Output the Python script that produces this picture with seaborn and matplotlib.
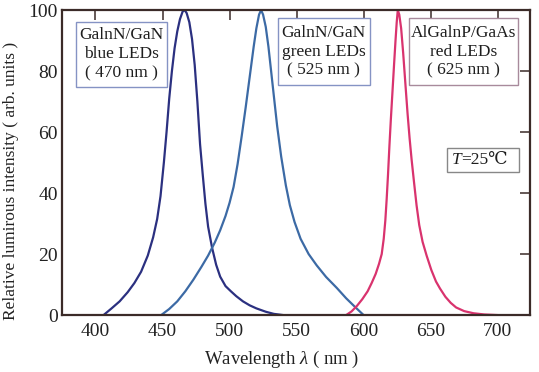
import matplotlib
matplotlib.use("Agg")
import matplotlib.pyplot as plt
from matplotlib.patches import Rectangle
import seaborn as sns
import pandas as pd

# Emission spectra of three LED families (relative luminous intensity vs wavelength)
blue_nm = [406, 412, 418, 424, 429, 434, 439, 443, 446, 448.5, 451, 453, 455, 457, 459, 461,
           463, 465, 466.5, 468, 470, 472, 474, 476, 478, 480, 482, 484, 487, 490, 493, 497,
           501, 505, 510, 515, 520, 527, 533, 540]
blue_int = [0, 2.2, 4.5, 7.5, 10.5, 14.2, 19.5, 25.5, 31.5, 39, 50, 60, 71, 80, 87.5, 93,
            97, 99.5, 100, 99, 96, 90.5, 82, 70, 56, 46, 36.5, 29, 22, 16.5, 12.6, 9.5,
            7.8, 6.2, 4.5, 3.2, 2.2, 1.1, 0.4, 0]

green_nm = [449, 455, 461, 467, 473, 479, 484, 489, 493, 497, 500, 503, 506, 509, 512, 515,
            518, 520, 522, 523.5, 525, 527, 529, 531, 533, 535.5, 538.5, 542, 545, 548.5,
            553, 559, 565, 572, 580, 587, 594, 600]
green_int = [0, 2, 4.5, 7.8, 11.6, 15.8, 19.5, 23.8, 27.8, 32.5, 36.8, 42, 49.5, 58.5, 68, 78,
             88, 94, 98.5, 100, 98.5, 94.5, 88, 80, 72, 62, 52, 42.5, 36, 30.5,
             25, 20, 16.3, 12.5, 8.9, 5.5, 2.5, 0]

red_nm = [587, 591, 595, 599, 603, 606, 609, 611.5, 613.5, 615, 616.2, 617.2, 618.2, 619.2,
          620.3, 621.5, 622.7, 623.8, 624.7, 625.5, 626.6, 628, 629.5, 631.3, 632.8, 634.3,
          635.8, 637.5, 639.5, 641.5, 644, 647, 650.5, 654, 657, 661, 665, 669, 675, 682,
          690, 700]
red_int = [0, 1.2, 3, 5.2, 7.8, 10.5, 13.5, 16.8, 20, 25, 31, 38, 46, 55,
           64, 73, 82, 90, 96, 100, 98.5, 94, 86, 75, 66, 58,
           51, 44, 36, 29.5, 24, 19.5, 14.8, 11, 8.7, 6, 4, 2.5, 1.3, 0.6,
           0.2, 0]

series_names = ["blue", "green", "red"]
series_colors = ["#2b3080", "#3c6aa5", "#d9336e"]

x_ticks = [400, 450, 500, 550, 600, 650, 700]
y_ticks = [0, 20, 40, 60, 80, 100]

box_labels = ["GalnN/GaN\nblue LEDs\n( 470 nm )",
              "GalnN/GaN\ngreen LEDs\n( 525 nm )",
              "AlGalnP/GaAs\nred LEDs\n( 625 nm )"]

frames = []
for name, xs, ys in zip(series_names,
                        [blue_nm, green_nm, red_nm],
                        [blue_int, green_int, red_int]):
    frames.append(pd.DataFrame({"wavelength": xs, "intensity": ys, "led": name}))
df = pd.concat(frames, ignore_index=True)

sns.set_theme(style="white")
serif = ["Liberation Serif", "DejaVu Serif", "Noto Sans CJK SC"]
plt.rcParams["font.family"] = serif
plt.rcParams["mathtext.fontset"] = "custom"
plt.rcParams["mathtext.rm"] = "Liberation Serif"
plt.rcParams["mathtext.it"] = "Liberation Serif:italic"

fig = plt.figure(figsize=(5.39, 3.72), dpi=100)
ax = fig.add_axes([0.115, 0.153, 0.868, 0.820])

sns.lineplot(data=df, x="wavelength", y="intensity", hue="led",
             palette=dict(zip(series_names, series_colors)),
             estimator=None, sort=False, linewidth=1.6, legend=False, ax=ax)

ax.set_xlim(375, 724)
ax.set_ylim(0, 100)
ax.set_xticks(x_ticks)
ax.set_yticks(y_ticks)
spine_color = "#3b2b28"
ax.tick_params(direction="in", length=7, width=1.1, color=spine_color,
               labelsize=14, top=True, right=True, labelcolor="#222222")
ax.tick_params(axis="x", pad=6)
ax.tick_params(axis="y", pad=3)

for s in ax.spines.values():
    s.set_color(spine_color)
    s.set_linewidth(1.6)

ax.set_xlabel(r"Wavelength $\lambda$ ( nm )", fontsize=13.5, color="#222222")
ax.set_ylabel("Relative lumirous intensity ( arb. units )", fontsize=12.5, color="#222222")
ax.xaxis.set_label_coords(0.47, -0.112)
ax.yaxis.set_label_coords(-0.092, 0.44)

# Framed labels attached to each spectrum
box_specs = [
    ((385.1, 74.8), 68.6, 21.3, "#8593c4"),
    ((535.8, 75.4), 68.7, 22.0, "#8593c4"),
    ((633.6, 75.4), 81.3, 22.0, "#a88a9c"),
]
for (xy, w, h, ec), label in zip(box_specs, box_labels):
    ax.add_patch(Rectangle(xy, w, h, facecolor="white", edgecolor=ec,
                           linewidth=1.0, zorder=3))
    ax.text(xy[0] + w / 2, xy[1] + h / 2, label, ha="center", va="center",
            fontsize=12.5, linespacing=1.25, color="#1e1e1e", zorder=4)

# Temperature note
ax.add_patch(Rectangle((662, 46.9), 53.7, 7.9, facecolor="white",
                       edgecolor="#888888", linewidth=1.0, zorder=3))
ax.text(673.1, 50.8, "T", ha="right", va="center", fontsize=12.5,
        fontstyle="italic", color="#1e1e1e", zorder=4)
ax.text(673.1, 50.8, "=25℃", ha="left", va="center", fontsize=12.5,
        family=serif, color="#1e1e1e", zorder=4)

fig.savefig("out.png", dpi=100)
